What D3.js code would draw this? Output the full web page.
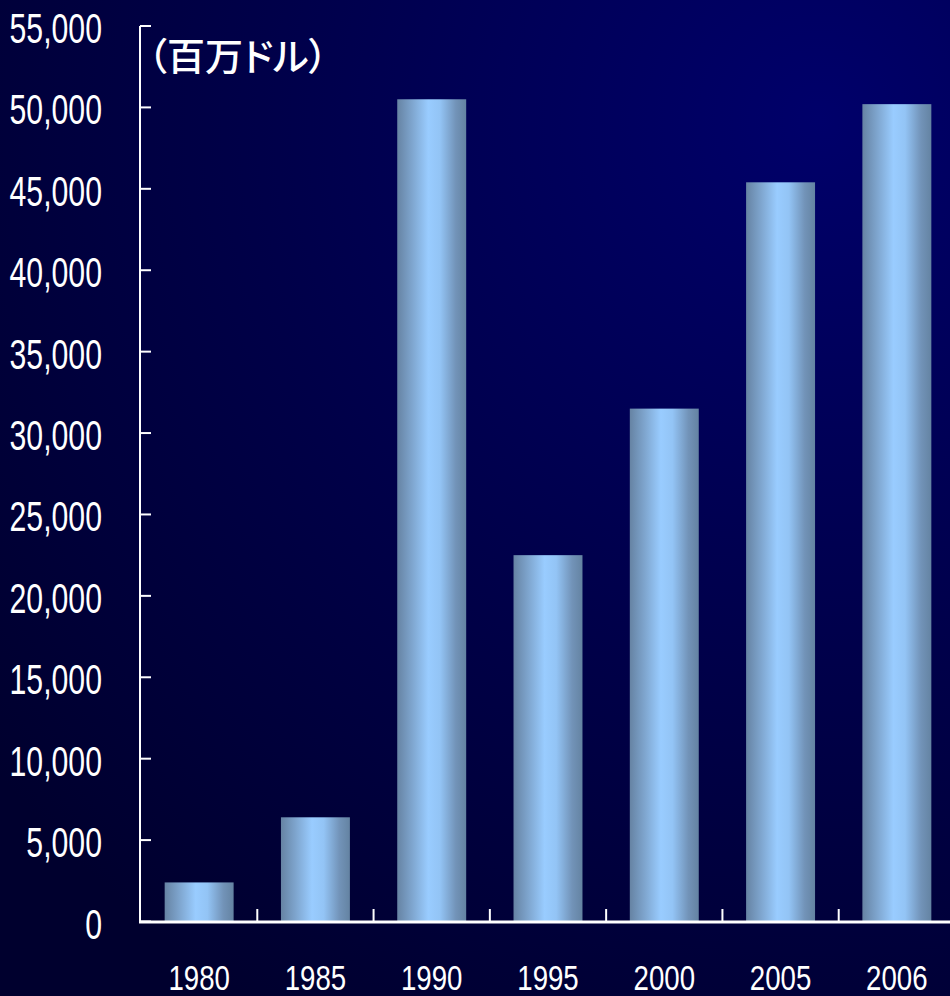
<!DOCTYPE html>
<html><head><meta charset="utf-8">
<script src="https://cdn.jsdelivr.net/npm/d3@7"></script>
<style>html,body{margin:0;padding:0;background:#000033;}svg{display:block;}</style>
</head><body>
<svg id="c" width="950" height="996"></svg>
<script>
const years = ["1980","1985","1990","1995","2000","2005","2006"];
const values = [2400, 6400, 50500, 22500, 31500, 45400, 50200];
const yTicks = [0,5000,10000,15000,20000,25000,30000,35000,40000,45000,50000,55000];
const unitLabel = "（百万ドル）";

const W = 950, H = 996;
const svg = d3.select("#c");
const defs = svg.append("defs");

const bg = defs.append("radialGradient").attr("id","bg")
  .attr("gradientUnits","userSpaceOnUse").attr("cx",820).attr("cy",120).attr("r",1050);
bg.append("stop").attr("offset","0").attr("stop-color","#00006a");
bg.append("stop").attr("offset","0.55").attr("stop-color","#000048");
bg.append("stop").attr("offset","1").attr("stop-color","#00002e");

const bar = defs.append("linearGradient").attr("id","bar").attr("x1","0").attr("x2","1").attr("y1","0").attr("y2","0");
[[0,"#6683a3"],[0.22,"#7fa6cf"],[0.45,"#99ccff"],[0.62,"#93c4f5"],[0.85,"#7293b8"],[1,"#6483a2"]]
  .forEach(([o,c])=>bar.append("stop").attr("offset",o).attr("stop-color",c));

svg.append("rect").attr("width",W).attr("height",H).attr("fill","url(#bg)");

const x0 = 141, x1 = 955;
const x = d3.scaleBand().domain(years).range([x0,x1]).paddingInner(0.407).paddingOuter(0.2035);
const y = d3.scaleLinear().domain([0,55000]).range([921.5,26]);

// bars
svg.append("g").selectAll("rect").data(years).join("rect")
  .attr("x",d=>x(d)).attr("width",x.bandwidth())
  .attr("y",(d,i)=>y(values[i])).attr("height",(d,i)=>y(0)-y(values[i]))
  .attr("fill","url(#bar)");

const numFont = "'Liberation Sans',Arial,sans-serif";

// y axis
const gy = svg.append("g");
gy.append("line").attr("x1",140).attr("x2",140).attr("y1",y(55000)).attr("y2",y(0))
  .attr("stroke","#fff").attr("stroke-width",2);
gy.selectAll("line.t").data(yTicks).join("line").attr("class","t")
  .attr("x1",140).attr("x2",151).attr("y1",d=>y(d)).attr("y2",d=>y(d))
  .attr("stroke","#fff").attr("stroke-width",2);
const fmt = d3.format(",");
gy.selectAll("text").data(yTicks).join("text")
  .attr("transform",d=>`translate(102,${y(d)+17}) scale(0.72,1)`)
  .attr("text-anchor","end")
  .attr("font-family",numFont)
  .attr("font-size",42).attr("fill","#fff")
  .text(d=>fmt(d));

// x axis
const gx = svg.append("g");
gx.append("line").attr("x1",139).attr("x2",W).attr("y1",922).attr("y2",922)
  .attr("stroke","#fff").attr("stroke-width",3);
const step = x.step();
gx.selectAll("line.t").data(years.slice(1)).join("line").attr("class","t")
  .attr("x1",d=>x(d)-x.paddingInner()*step/2).attr("x2",d=>x(d)-x.paddingInner()*step/2)
  .attr("y1",909).attr("y2",922).attr("stroke","#fff").attr("stroke-width",2);
gx.selectAll("text").data(years).join("text")
  .attr("transform",d=>`translate(${x(d)+x.bandwidth()/2},990) scale(0.79,1)`)
  .attr("text-anchor","middle")
  .attr("font-family",numFont)
  .attr("font-size",35).attr("fill","#fff")
  .text(d=>d);

// unit label
svg.append("text").attr("x",148).attr("y",70)
  .attr("font-family","'Noto Sans CJK JP',sans-serif").attr("font-size",38).attr("font-weight",500)
  .style("font-feature-settings","'palt'")
  .attr("fill","#fff")
  .text(unitLabel);
</script>
</body></html>
